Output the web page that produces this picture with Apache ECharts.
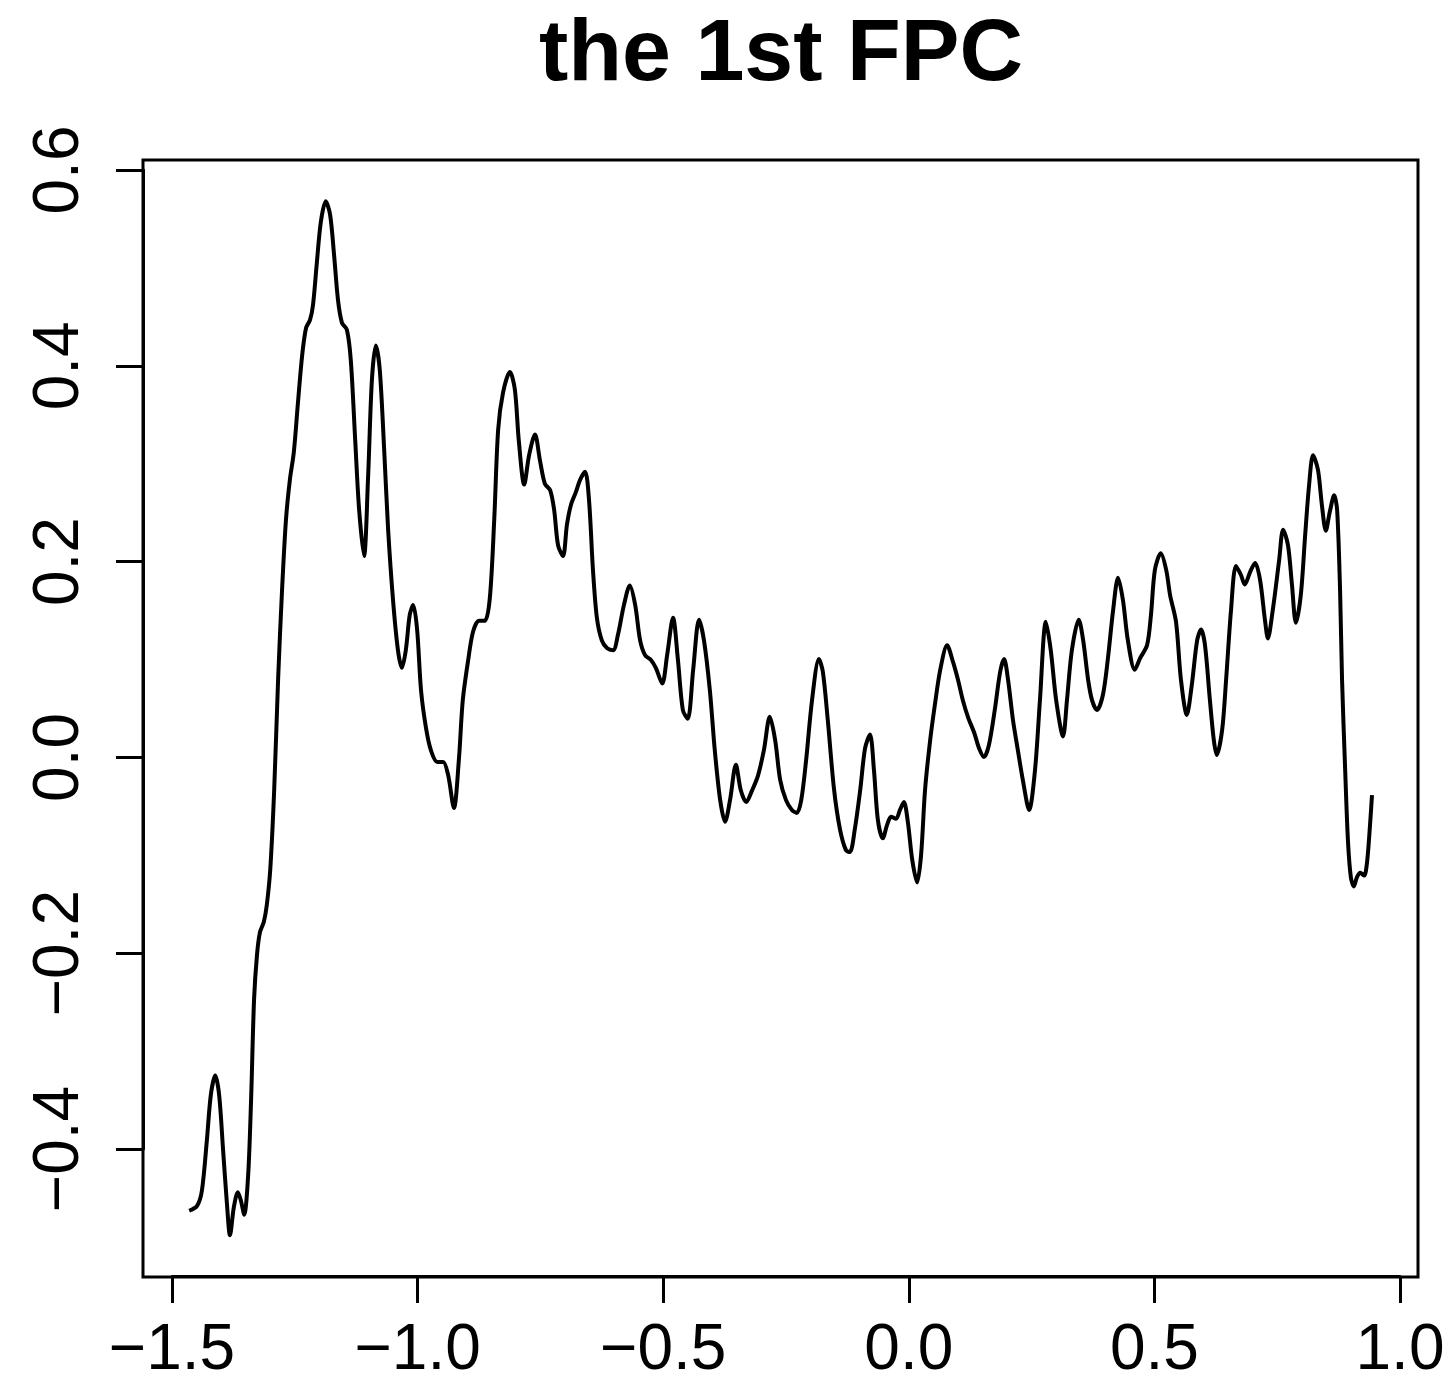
<!DOCTYPE html>
<html>
<head>
<meta charset="utf-8">
<script src="https://cdn.jsdelivr.net/npm/echarts@6/dist/echarts.min.js"></script>
<style>
  html, body { margin: 0; padding: 0; background: #fff; }
  #fpc_chart { width: 1450px; height: 1383px; }
</style>
</head>
<body>
<div id="fpc_chart"></div>
<script>
  // first functional principal component
  var xVals = [
    -1.465, -1.449, -1.439, -1.429, -1.421, -1.412, -1.404, -1.396, -1.388, -1.382,
    -1.374, -1.366, -1.360, -1.353, -1.345, -1.339, -1.333, -1.327, -1.321, -1.313,
    -1.307, -1.300, -1.292, -1.284, -1.276, -1.268, -1.260, -1.252, -1.244, -1.235,
    -1.227, -1.219, -1.213, -1.205, -1.197, -1.187, -1.178, -1.170, -1.162, -1.154,
    -1.144, -1.136, -1.127, -1.119, -1.109, -1.101, -1.093, -1.085, -1.077, -1.068,
    -1.060, -1.050, -1.040, -1.032, -1.024, -1.016, -1.009, -1.001, -0.993, -0.983,
    -0.973, -0.960, -0.948, -0.938, -0.926, -0.916, -0.908, -0.897, -0.887, -0.875,
    -0.863, -0.853, -0.844, -0.836, -0.826, -0.812, -0.802, -0.794, -0.783, -0.773,
    -0.761, -0.751, -0.741, -0.730, -0.722, -0.714, -0.704, -0.696, -0.688, -0.678,
    -0.669, -0.659, -0.651, -0.643, -0.635, -0.625, -0.614, -0.602, -0.592, -0.580,
    -0.568, -0.557, -0.547, -0.537, -0.525, -0.515, -0.502, -0.492, -0.480, -0.470,
    -0.460, -0.450, -0.439, -0.427, -0.417, -0.405, -0.395, -0.384, -0.374, -0.364,
    -0.352, -0.342, -0.331, -0.319, -0.307, -0.295, -0.283, -0.272, -0.262, -0.250,
    -0.238, -0.228, -0.219, -0.209, -0.197, -0.183, -0.175, -0.165, -0.152, -0.140,
    -0.128, -0.120, -0.110, -0.099, -0.089, -0.079, -0.071, -0.063, -0.053, -0.044,
    -0.036, -0.026, -0.018, -0.010, -0.002, 0.007, 0.017, 0.025, 0.033, 0.043,
    0.053, 0.064, 0.078, 0.090, 0.100, 0.110, 0.121, 0.133, 0.143, 0.153,
    0.163, 0.175, 0.186, 0.194, 0.202, 0.212, 0.222, 0.232, 0.245, 0.257,
    0.267, 0.279, 0.289, 0.300, 0.314, 0.322, 0.332, 0.346, 0.355, 0.365,
    0.373, 0.383, 0.395, 0.405, 0.416, 0.426, 0.436, 0.446, 0.460, 0.471,
    0.485, 0.493, 0.501, 0.513, 0.524, 0.532, 0.544, 0.554, 0.566, 0.576,
    0.587, 0.595, 0.603, 0.613, 0.621, 0.627, 0.638, 0.646, 0.656, 0.666,
    0.676, 0.684, 0.695, 0.705, 0.715, 0.725, 0.731, 0.741, 0.754, 0.762,
    0.772, 0.780, 0.788, 0.798, 0.807, 0.815, 0.823, 0.833, 0.841, 0.849,
    0.857, 0.866, 0.872, 0.878, 0.882, 0.888, 0.894, 0.900, 0.906, 0.912,
    0.919, 0.927, 0.933, 0.939, 0.943
  ];
  var yVals = [
    -0.462, -0.457, -0.441, -0.390, -0.344, -0.324, -0.344, -0.400, -0.456, -0.487,
    -0.458, -0.443, -0.451, -0.466, -0.426, -0.349, -0.247, -0.201, -0.178, -0.167,
    -0.150, -0.114, -0.033, 0.080, 0.171, 0.243, 0.284, 0.312, 0.360, 0.411,
    0.439, 0.447, 0.462, 0.506, 0.547, 0.568, 0.554, 0.513, 0.467, 0.444,
    0.437, 0.406, 0.324, 0.253, 0.206, 0.284, 0.386, 0.421, 0.396, 0.314,
    0.233, 0.161, 0.110, 0.092, 0.110, 0.146, 0.156, 0.131, 0.069, 0.031,
    0.008, -0.004, -0.004, -0.017, -0.051, -0.002, 0.059, 0.100, 0.129, 0.140,
    0.140, 0.163, 0.243, 0.335, 0.373, 0.394, 0.376, 0.324, 0.279, 0.309,
    0.330, 0.304, 0.280, 0.273, 0.253, 0.217, 0.206, 0.238, 0.258, 0.271,
    0.284, 0.292, 0.263, 0.192, 0.143, 0.120, 0.112, 0.110, 0.126, 0.156,
    0.176, 0.156, 0.120, 0.105, 0.100, 0.092, 0.076, 0.105, 0.143, 0.100,
    0.049, 0.040, 0.090, 0.141, 0.120, 0.069, 0.008, -0.043, -0.065, -0.043,
    -0.007, -0.033, -0.045, -0.033, -0.018, 0.008, 0.042, 0.018, -0.022, -0.043,
    -0.053, -0.056, -0.043, -0.002, 0.059, 0.101, 0.088, 0.039, -0.033, -0.073,
    -0.094, -0.096, -0.073, -0.033, 0.010, 0.024, -0.012, -0.063, -0.082, -0.068,
    -0.060, -0.062, -0.053, -0.045, -0.065, -0.104, -0.127, -0.099, -0.033, 0.016,
    0.054, 0.090, 0.115, 0.098, 0.080, 0.059, 0.041, 0.026, 0.010, 0.001,
    0.013, 0.049, 0.088, 0.101, 0.080, 0.039, 0.008, -0.022, -0.053, -0.012,
    0.059, 0.139, 0.110, 0.059, 0.022, 0.059, 0.110, 0.141, 0.120, 0.080,
    0.059, 0.049, 0.064, 0.100, 0.151, 0.184, 0.161, 0.120, 0.090, 0.102,
    0.115, 0.146, 0.192, 0.209, 0.192, 0.166, 0.139, 0.080, 0.044, 0.074,
    0.120, 0.131, 0.115, 0.059, 0.018, 0.003, 0.029, 0.080, 0.151, 0.196,
    0.187, 0.177, 0.190, 0.199, 0.182, 0.141, 0.122, 0.151, 0.202, 0.233,
    0.217, 0.177, 0.138, 0.166, 0.228, 0.279, 0.309, 0.294, 0.258, 0.232,
    0.251, 0.268, 0.253, 0.171, 0.080, -0.007, -0.084, -0.122, -0.131, -0.122,
    -0.117, -0.120, -0.106, -0.068, -0.038
  ];

  // axis ticks (as in the original plot)
  var xTickMin = -1.5, xTickMax = 1.0, xTickStep = 0.5;
  var yTickMin = -0.4, yTickMax = 0.6, yTickStep = 0.2;
  // plotting region (R pads the data range by 4%)
  var xLim = [-1.55904, 1.03664];
  var yLim = [-0.52959, 0.61020];

  var fontFam = '"Liberation Sans", Arial, Helvetica, sans-serif';

  function fmtTick(v) {
    if (Math.abs(v) < 1e-9) v = 0;
    return v.toFixed(1).replace('-', '\u2212');
  }

  var points = xVals.map(function (x, i) { return [x, yVals[i]]; });

  var option = {
    animation: false,
    backgroundColor: '#fff',
    title: {
      text: 'the 1st FPC',
      left: 781,
      top: 12,
      padding: 0,
      textAlign: 'center',
      textStyle: {
        fontFamily: fontFam,
        fontWeight: 'bold',
        fontSize: 88,
        color: '#000'
      }
    },
    grid: [
      { left: 143, top: 160, width: 1275, height: 1117,
        show: true, borderColor: '#000', borderWidth: 3, backgroundColor: 'transparent' },
      { left: 172, top: 170, width: 1228, height: 980, show: false }
    ],
    xAxis: [
      { type: 'value', gridIndex: 0, min: xLim[0], max: xLim[1], show: false,
        splitLine: { show: false } },
      { type: 'value', gridIndex: 1, min: xTickMin, max: xTickMax, interval: xTickStep,
        position: 'bottom', offset: 127,
        axisLine: { show: true, onZero: false, lineStyle: { color: '#000', width: 3 } },
        axisTick: { show: true, length: 27, lineStyle: { color: '#000', width: 3 } },
        axisLabel: { margin: 43, fontSize: 64, fontFamily: fontFam, color: '#000',
          formatter: fmtTick },
        splitLine: { show: false } }
    ],
    yAxis: [
      { type: 'value', gridIndex: 0, min: yLim[0], max: yLim[1], show: false,
        splitLine: { show: false } },
      { type: 'value', gridIndex: 1, min: yTickMin, max: yTickMax, interval: yTickStep,
        position: 'left', offset: 29,
        axisLine: { show: true, onZero: false, lineStyle: { color: '#000', width: 3 } },
        axisTick: { show: true, length: 27, lineStyle: { color: '#000', width: 3 } },
        axisLabel: { margin: 51, rotate: 90, fontSize: 64, fontFamily: fontFam, color: '#000',
          formatter: fmtTick },
        splitLine: { show: false } }
    ],
    series: [
      {
        name: 'FPC1',
        type: 'line',
        xAxisIndex: 0,
        yAxisIndex: 0,
        data: points,
        smooth: 0.3,
        showSymbol: false,
        symbol: 'none',
        lineStyle: { color: '#000', width: 4 }
      }
    ]
  };

  var myChart = echarts.init(document.getElementById('fpc_chart'));
  myChart.setOption(option);
</script>
</body>
</html>
